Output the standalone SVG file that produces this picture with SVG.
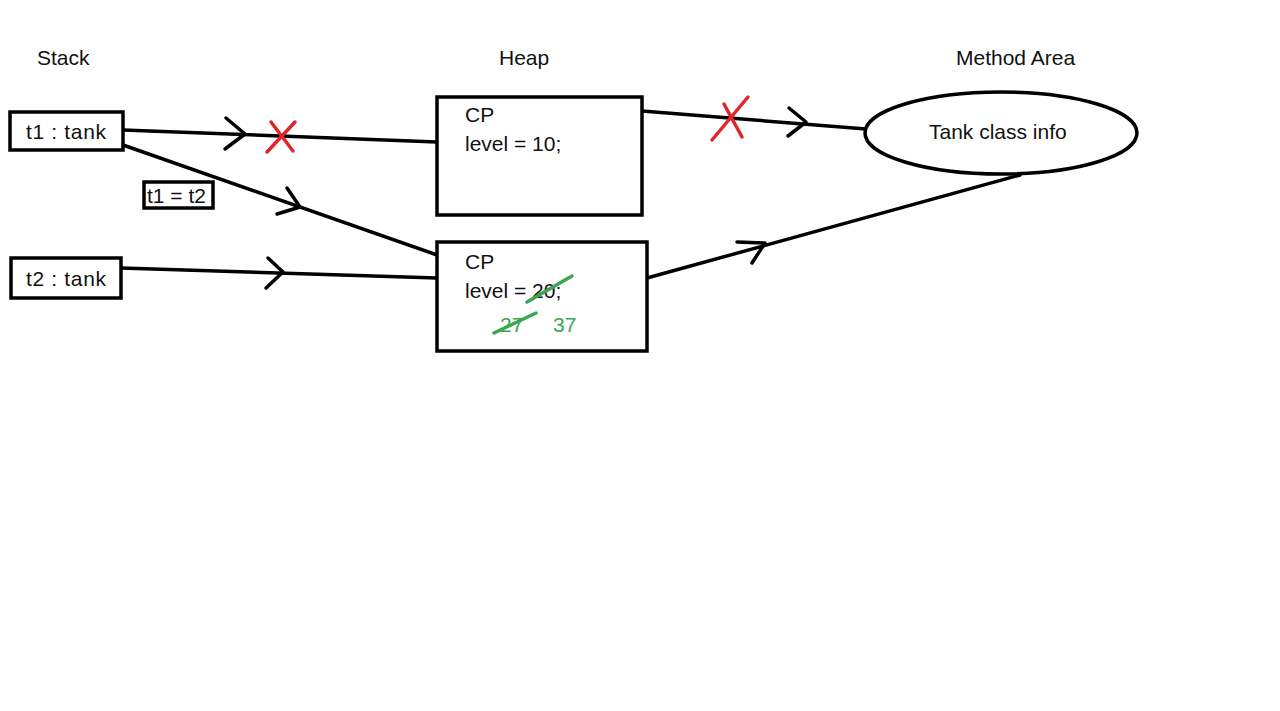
<svg xmlns="http://www.w3.org/2000/svg" width="1280" height="711" viewBox="0 0 1280 711">
<style>
text{font-family:"Liberation Sans",Arial,sans-serif;font-size:21px;fill:#111;dominant-baseline:central}
.box{fill:#fff;stroke:#000;stroke-width:3.5}
.ln{fill:none;stroke:#000;stroke-width:3.5;stroke-linecap:round;stroke-linejoin:round}
.red{fill:none;stroke:#e0262b;stroke-width:3.5;stroke-linecap:round}
.grn{fill:none;stroke:#3aa655;stroke-width:3.5;stroke-linecap:round}
.gt{fill:#3aa655}
</style>
<rect width="1280" height="711" fill="#fff"/>
<g id="titles">
<text x="37" y="57">Stack</text>
<text x="499" y="57">Heap</text>
<text x="956" y="57" font-size="22">Method Area</text>
</g>
<g id="connectors">
<path class="ln" d="M123,130 L437,142"/>
<path class="ln" d="M226,118 L245,134 L225,149"/>
<path class="red" d="M271,122 L293,151 M295,122 L267,152"/>
<path class="ln" d="M123,145 L437,255"/>
<path class="ln" d="M287,188 L300,207 L277,214"/>
<path class="ln" d="M121,268 L437,278"/>
<path class="ln" d="M268,258 L283,272 L266,288"/>
<path class="ln" d="M642,111 L866,129"/>
<path class="ln" d="M789,108 L806,122 L788,136"/>
<path class="red" d="M748,97 L712,140 M724,104 L742,137"/>
<path class="ln" d="M647,278 L1020,175"/>
<path class="ln" d="M737,242 L765,243 L752,263"/>
</g>
<g id="t1">
<rect class="box" x="10" y="112" width="113" height="38"/>
<text x="26" y="131" textLength="80">t1 : tank</text>
</g>
<g id="t2">
<rect class="box" x="11" y="258" width="110" height="40"/>
<text x="26" y="278" textLength="80">t2 : tank</text>
</g>
<g id="assign">
<rect class="box" x="144" y="182" width="69" height="26" stroke-width="3"/>
<text x="147" y="195" font-size="20">t1 = t2</text>
</g>
<g id="heap1">
<rect class="box" x="437" y="97" width="205" height="118"/>
<text x="465" y="114">CP</text>
<text x="465" y="143">level = 10;</text>
</g>
<g id="heap2">
<rect class="box" x="437" y="242" width="210" height="109"/>
<text x="465" y="261">CP</text>
<text x="465" y="290">level = 20;</text>
<path class="grn" d="M527,302 L572,276"/>
<text class="gt" x="500" y="324">27</text>
<path class="grn" d="M494,333 L536,313"/>
<text class="gt" x="553" y="324">37</text>
</g>
<g id="method">
<ellipse class="box" cx="1001" cy="133" rx="136" ry="41"/>
<text x="929" y="131">Tank class info</text>
</g>
</svg>
